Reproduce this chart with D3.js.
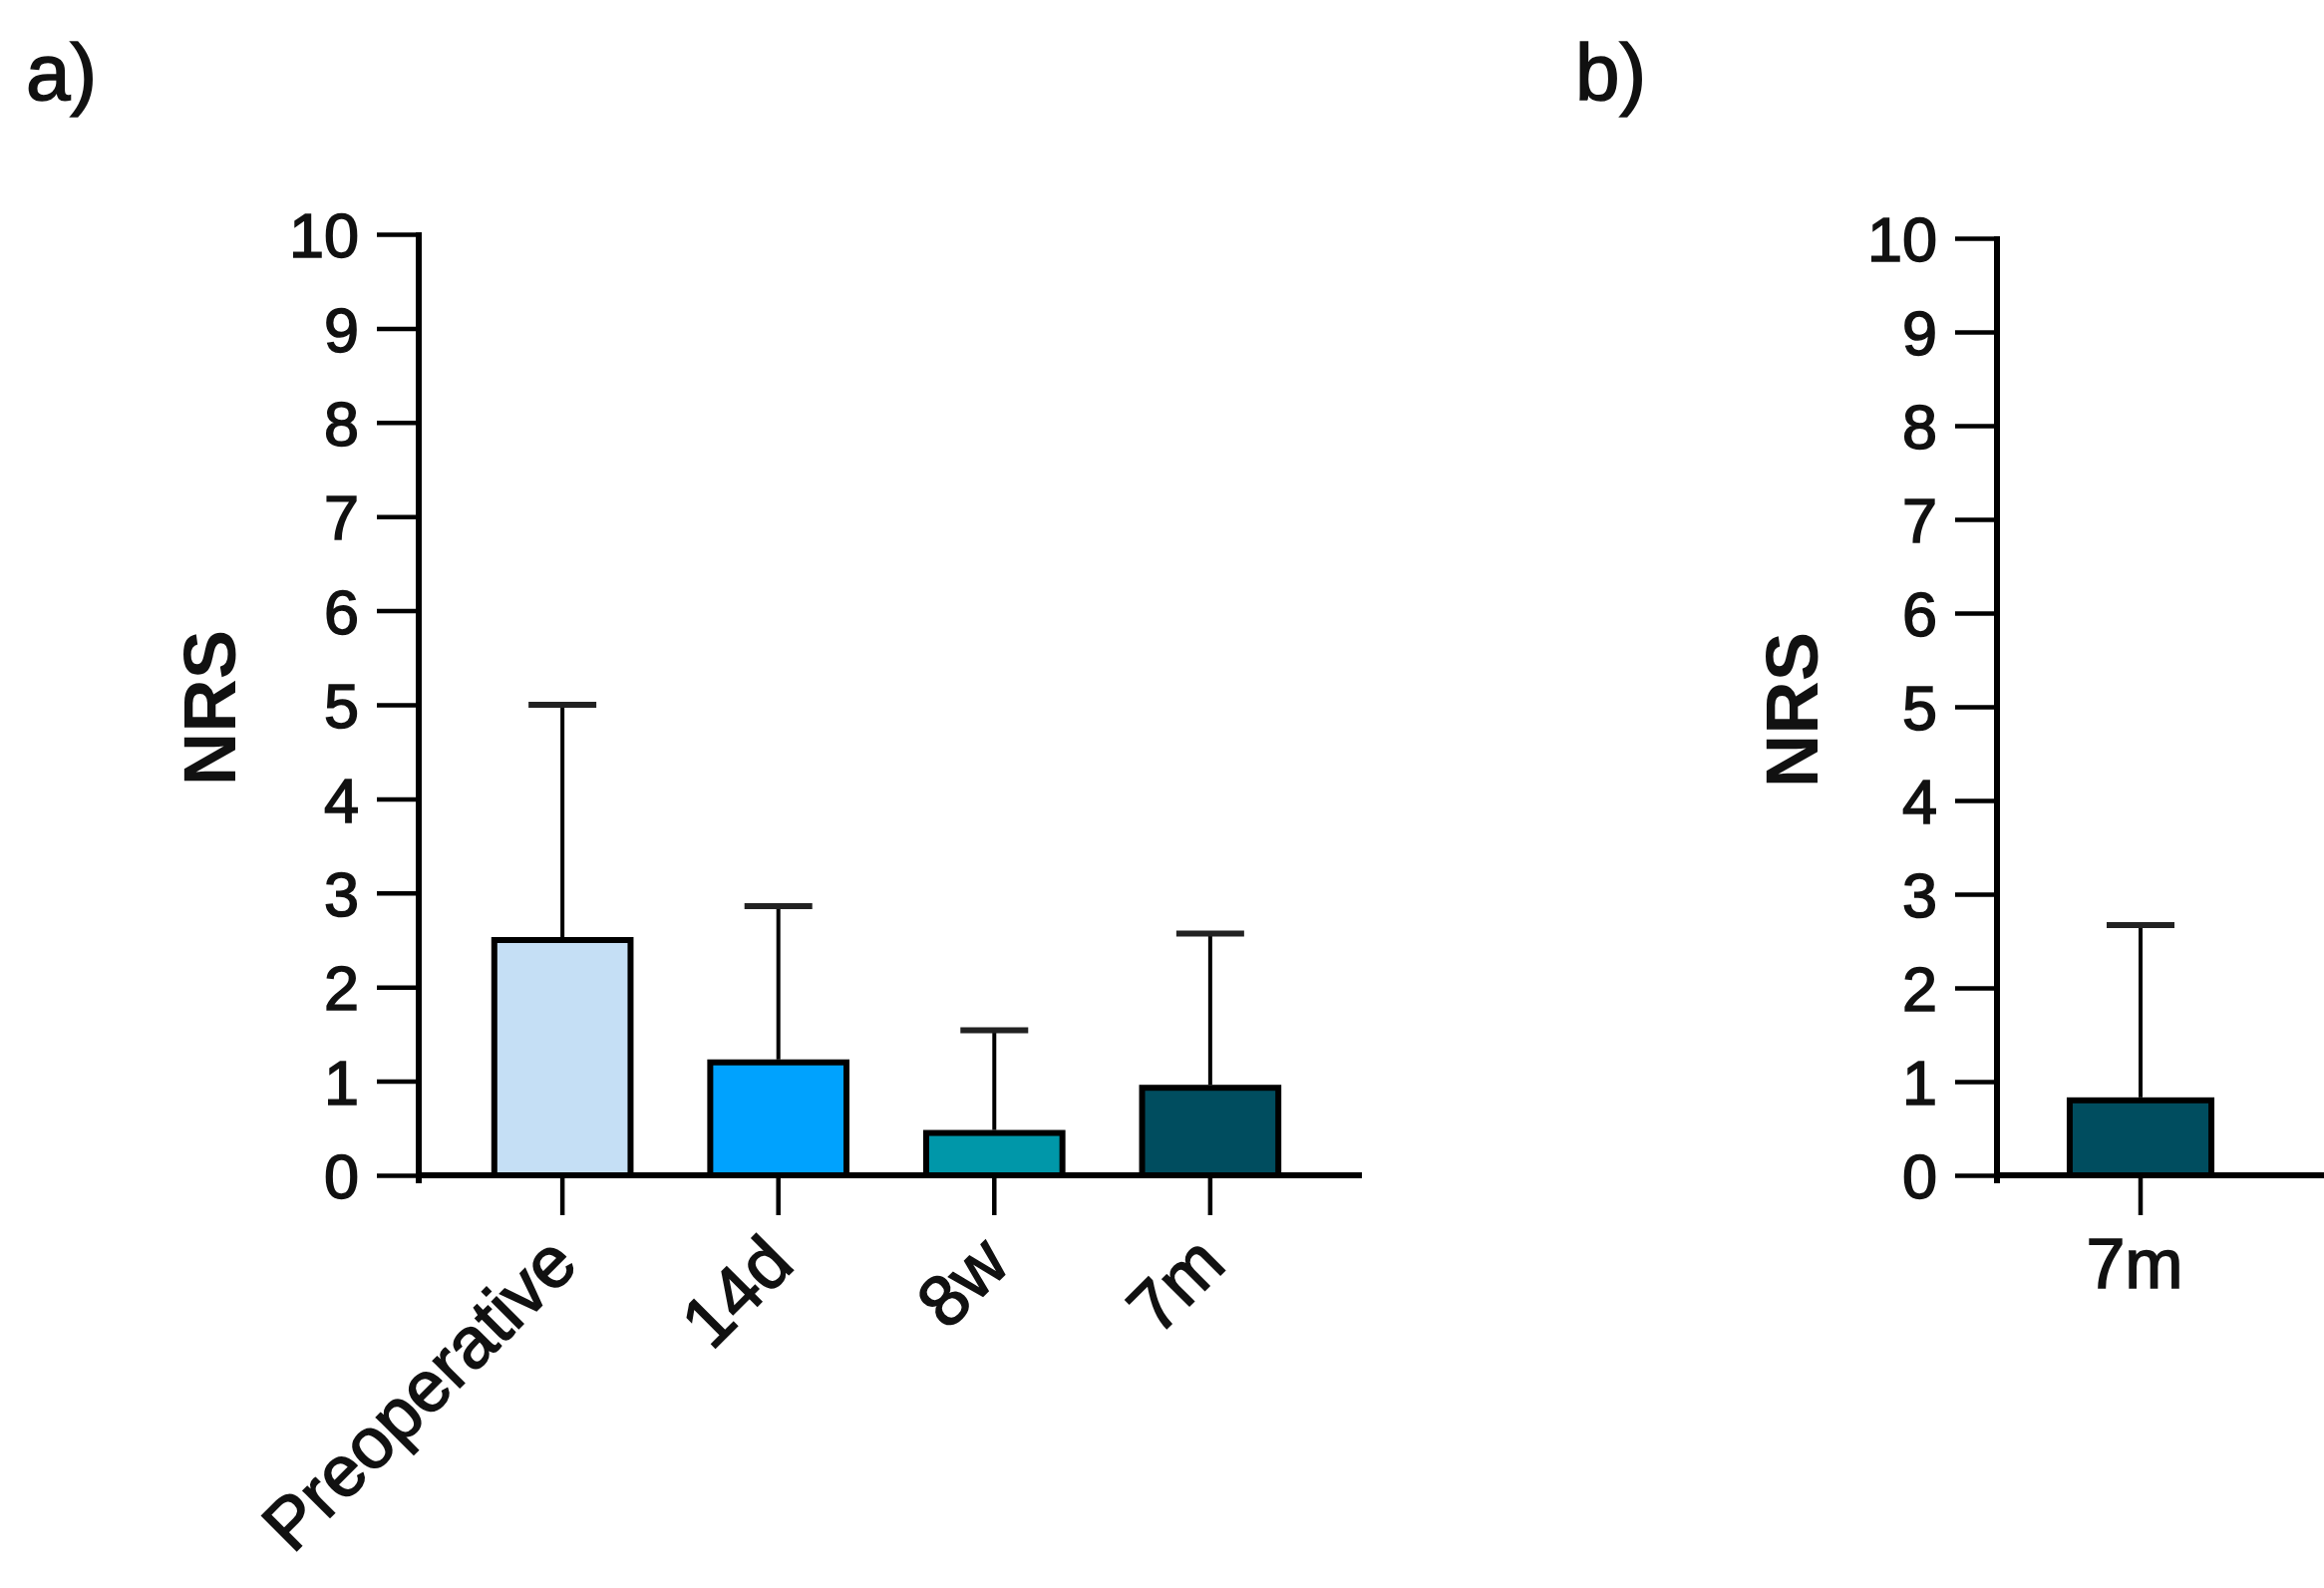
<!DOCTYPE html>
<html>
<head>
<meta charset="utf-8">
<script src="https://cdn.jsdelivr.net/npm/d3@7"></script>
<style>
  body { margin: 0; background: #fff; }
  svg text { font-family: "Liberation Sans", Arial, sans-serif; fill: #111; }
  svg text.gordo { stroke: #111; stroke-width: 1.6px; }
</style>
</head>
<body>
<div id="graf"></div>
<script>
// NRS por tiempo de seguimiento

// datos panel a)
catsA  = ['Preoperative', '14d', '8w', '7m']
meanA  = [2.5, 1.2, 0.45, 0.93]
upperA = [5.0, 2.86, 1.54, 2.57]
colorA = ['#c5dff5', '#00a2fe', '#0097a9', '#004d5f']

// datos panel b)
catsB  = ['7m']
meanB  = [0.8]
upperB = [2.67]
colorB = ['#004d5f']

yTicks = [0, 1, 2, 3, 4, 5, 6, 7, 8, 9, 10]

svg = d3.select('#graf').append('svg')
        .attr('width', 2331)
        .attr('height', 1593)

function panel(cfg) {
  g = svg.append('g')

  y = d3.scaleLinear().domain([0, 10]).range([cfg.y0, cfg.y10])
  x = d3.scaleBand()
        .domain(cfg.cats)
        .range(cfg.xr)
        .paddingInner(0.369)
        .paddingOuter(cfg.po)

  // eje y
  yAxis = g.append('g')
           .attr('transform', `translate(${cfg.ax}, 0)`)
           .call(d3.axisLeft(y).tickValues(yTicks).tickSize(42).tickSizeOuter(0).tickPadding(18))
  yAxis.select('.domain').remove()
  yAxis.selectAll('.tick line').attr('stroke', '#000').attr('stroke-width', 4.5)
  yAxis.selectAll('.tick text').attr('class', 'gordo').style('font-size', '63px').attr('dy', '0.36em')
  g.append('line')
   .attr('x1', cfg.ax).attr('x2', cfg.ax)
   .attr('y1', y(10) - 2).attr('y2', y(0) + 8)
   .attr('stroke', '#000').attr('stroke-width', 6)

  // barras
  g.selectAll('rect.bar').data(cfg.cats).join('rect')
   .attr('class', 'bar')
   .attr('x', d => x(d))
   .attr('width', x.bandwidth())
   .attr('y', (d, i) => y(cfg.mean[i]))
   .attr('height', (d, i) => y(0) - y(cfg.mean[i]))
   .attr('fill', (d, i) => cfg.color[i])
   .attr('stroke', '#000')
   .attr('stroke-width', 6)

  // barras de error (solo hacia arriba)
  cx = d => x(d) + x.bandwidth() / 2
  g.selectAll('line.err').data(cfg.cats).join('line')
   .attr('class', 'err')
   .attr('x1', cx).attr('x2', cx)
   .attr('y1', (d, i) => y(cfg.mean[i]) - 3)
   .attr('y2', (d, i) => y(cfg.upper[i]))
   .attr('stroke', '#000').attr('stroke-width', 4)
  g.selectAll('line.cap').data(cfg.cats).join('line')
   .attr('class', 'cap')
   .attr('x1', d => cx(d) - 34).attr('x2', d => cx(d) + 34)
   .attr('y1', (d, i) => y(cfg.upper[i]))
   .attr('y2', (d, i) => y(cfg.upper[i]))
   .attr('stroke', '#222').attr('stroke-width', 6)

  // eje x
  xAxis = g.append('g')
           .attr('transform', `translate(0, ${cfg.y0})`)
           .call(d3.axisBottom(x).tickSize(40).tickSizeOuter(0))
  xAxis.select('.domain').remove()
  xAxis.selectAll('.tick line').attr('stroke', '#000').attr('stroke-width', 4.5)
  xAxis.selectAll('.tick text').remove()
  g.append('line')
   .attr('x1', cfg.ax - 3).attr('x2', cfg.xEnd)
   .attr('y1', y(0)).attr('y2', y(0))
   .attr('stroke', '#000').attr('stroke-width', 6)

  if (cfg.rotate) {
    g.selectAll('text.xl').data(cfg.cats).join('text')
     .attr('class', 'xl gordo')
     .attr('text-anchor', 'end')
     .style('font-size', '72px')
     .attr('transform', d => `translate(${cx(d) + 18}, ${cfg.y0 + 92}) rotate(-45)`)
     .text(d => d)
  } else {
    g.selectAll('text.xl').data(cfg.cats).join('text')
     .attr('class', 'xl gordo')
     .attr('text-anchor', 'middle')
     .style('font-size', '70px')
     .attr('x', d => cx(d) - 6).attr('y', cfg.y0 + 113)
     .text(d => d)
  }

  // titulo eje y
  g.append('text')
   .attr('text-anchor', 'middle')
   .style('font-size', '74px')
   .style('font-weight', 'bold')
   .attr('transform', `translate(${cfg.lx}, ${(cfg.y0 + cfg.y10) / 2 + 3}) rotate(-90)`)
   .text('NRS')

  // etiqueta del panel
  svg.append('text')
     .attr('class', 'gordo')
     .style('font-size', '80px')
     .attr('x', cfg.px).attr('y', 100)
     .text(cfg.tag)
}

panel({ cats: catsA, mean: meanA, upper: upperA, color: colorA,
        ax: 420, xr: [420, 1358], po: 0.35, xEnd: 1366,
        y0: 1179, y10: 235, rotate: true, lx: 236, px: 26, tag: 'a)' })

panel({ cats: catsB, mean: meanB, upper: upperB, color: colorB,
        ax: 2003, xr: [1996, 2298], po: 0.355, xEnd: 2331,
        y0: 1179, y10: 239, rotate: false, lx: 1823, px: 1580, tag: 'b)' })
</script>
</body>
</html>
